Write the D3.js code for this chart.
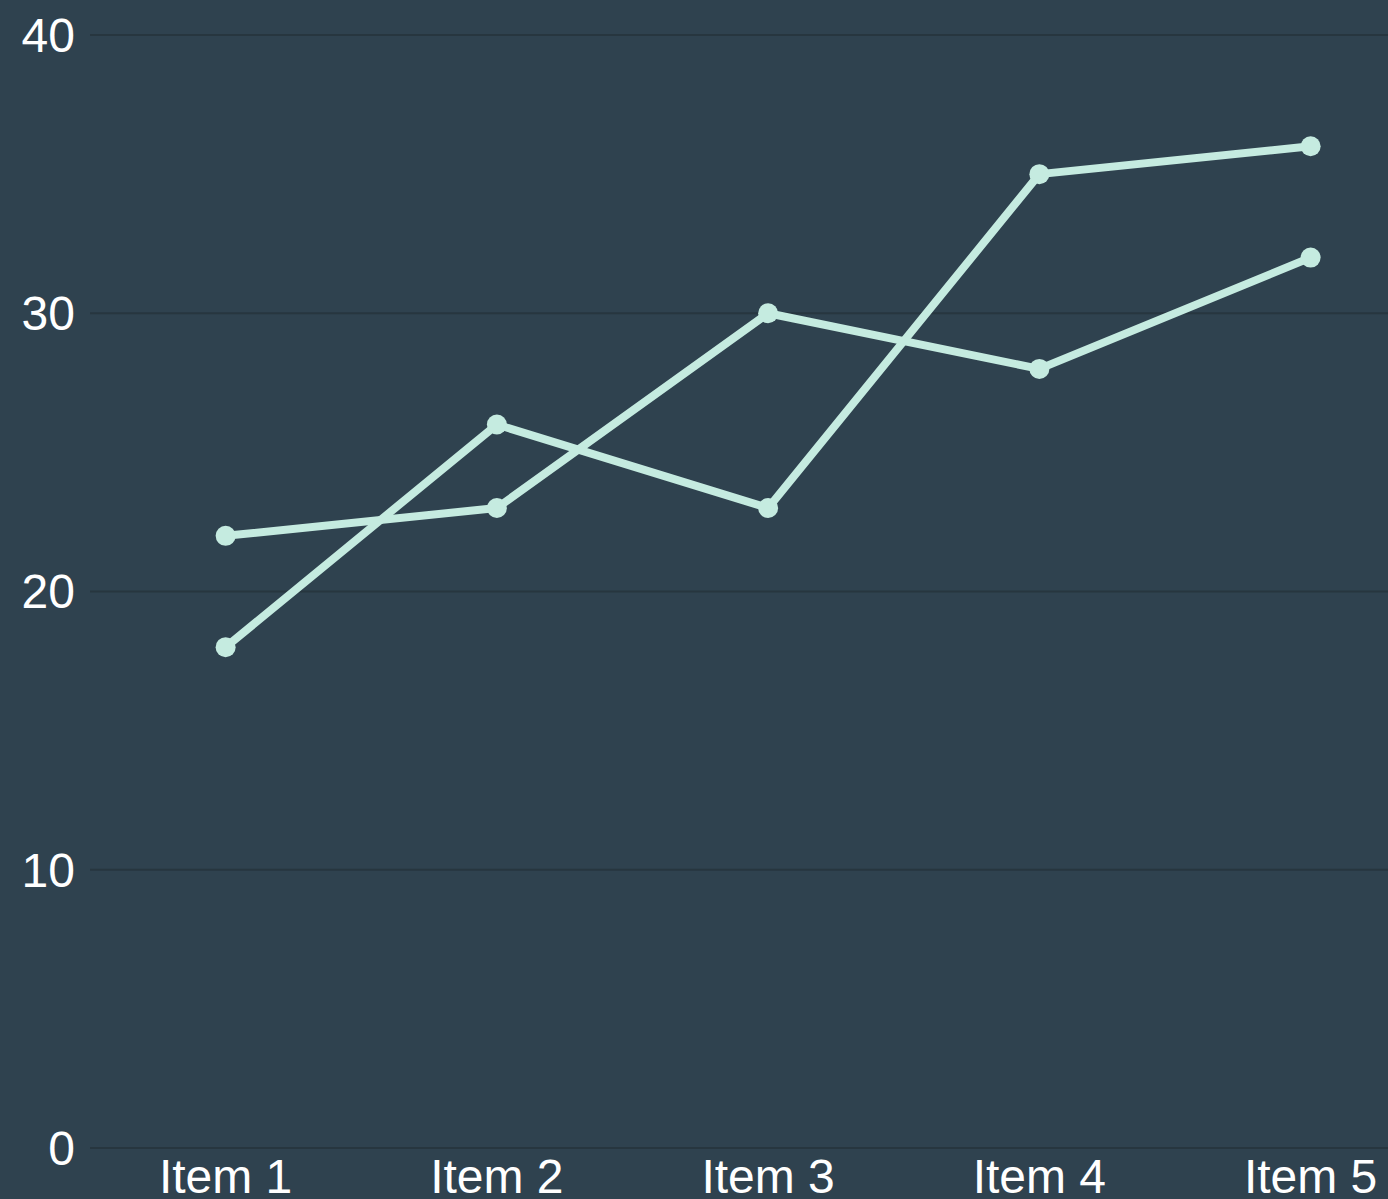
<!DOCTYPE html>
<html><head><meta charset="utf-8">
<script src="https://cdn.jsdelivr.net/npm/d3@7"></script>
<style>html,body{margin:0;padding:0;background:#2f424f;overflow:hidden}</style>
</head><body>
<script>
const categories = ["Item 1","Item 2","Item 3","Item 4","Item 5"];
const seriesA = [22, 23, 30, 28, 32];
const seriesB = [18, 26, 23, 35, 36];
const yTicks = [0, 10, 20, 30, 40];

const W = 1388, H = 1199;
const svg = d3.select("body").append("svg").attr("width", W).attr("height", H)
  .style("display","block").style("font-family","'Liberation Sans', Arial, sans-serif");
svg.append("rect").attr("width", W).attr("height", H).attr("fill", "#2f424f");

const x = d3.scaleBand().domain(categories).range([90, 90 + 5 * 271.25]);
const y = d3.scaleLinear().domain([0, 40]).range([1148, 35]);
const cx = c => x(c) + x.bandwidth() / 2;

const grid = svg.append("g");
grid.selectAll("line").data(yTicks).join("line")
  .attr("x1", 90).attr("x2", W).attr("y1", d => y(d)).attr("y2", d => y(d))
  .attr("stroke", "#27363f").attr("stroke-width", 2);

svg.append("g").selectAll("text").data(yTicks).join("text")
  .attr("x", 75).attr("y", d => y(d)).attr("dy", "0.35em")
  .attr("text-anchor", "end").attr("fill", "#ffffff").attr("font-size", 48)
  .text(d => d);

svg.append("g").selectAll("text").data(categories).join("text")
  .attr("x", d => cx(d)).attr("y", 1193)
  .attr("text-anchor", "middle").attr("fill", "#ffffff").attr("font-size", 48)
  .text(d => d);

const line = d3.line().x((d, i) => cx(categories[i])).y(d => y(d));
const color = "#c5ebe0";
[seriesA, seriesB].forEach(s => {
  svg.append("path").datum(s).attr("d", line).attr("fill", "none")
    .attr("stroke", color).attr("stroke-width", 8).attr("stroke-linejoin", "round");
  svg.append("g").selectAll("circle").data(s).join("circle")
    .attr("cx", (d, i) => cx(categories[i])).attr("cy", d => y(d)).attr("r", 10)
    .attr("fill", color);
});
</script>
</body></html>
